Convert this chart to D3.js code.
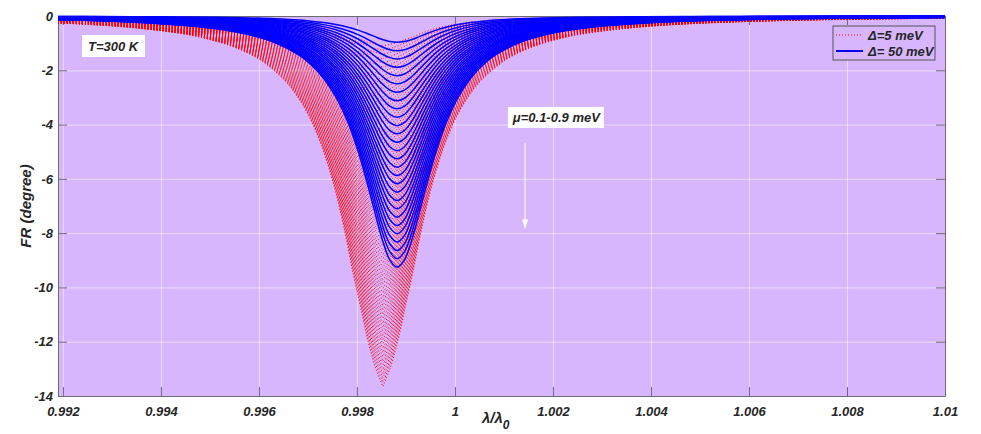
<!DOCTYPE html>
<html>
<head>
<meta charset="utf-8">
<script src="https://cdn.jsdelivr.net/npm/d3@7"></script>
<style>
  body { margin: 0; background: #fff; }
  svg text { font-family: "Liberation Sans", Arial, Helvetica, sans-serif; font-weight: bold; font-style: italic; fill: #262626; }
  .axis path, .axis line { stroke: #6e6a73; }
  .axis text { font-size: 13px; }
  .grid line { stroke: #fff; stroke-opacity: 0.5; }
  .grid path { display: none; }
</style>
</head>
<body>
<script>
// ticks
var xTicks = [0.992, 0.994, 0.996, 0.998, 1.000, 1.002, 1.004, 1.006, 1.008, 1.010];
var xTickLabels = ["0.992", "0.994", "0.996", "0.998", "1", "1.002", "1.004", "1.006", "1.008", "1.01"];
var yTicks = [0, -2, -4, -6, -8, -10, -12, -14];
var yTickLabels = ["0", "-2", "-4", "-6", "-8", "-10", "-12", "-14"];

// where the dips sit (lambda/lambda0)
var redCenter = 0.99853;
var blueCenter = 0.99882;

// bottom of each curve (degree)
var redDepths = [-1.10, -1.26, -1.41, -1.57, -1.73, -1.88, -2.04, -2.20, -2.36, -2.51,
                 -2.67, -2.83, -2.98, -3.14, -3.30, -3.45, -3.61, -3.77, -3.92, -4.08,
                 -4.24, -4.39, -4.55, -4.71, -4.87, -5.02, -5.18, -5.34, -5.49, -5.65,
                 -5.81, -5.96, -6.12, -6.28, -6.43, -6.59, -6.75, -6.90, -7.06, -7.22,
                 -7.38, -7.53, -7.69, -7.85, -8.00, -8.16, -8.32, -8.47, -8.63, -8.79,
                 -8.94, -9.10, -9.26, -9.41, -9.57, -9.73, -9.88, -10.04, -10.20, -10.36,
                 -10.51, -10.67, -10.83, -10.98, -11.14, -11.30, -11.45, -11.61, -11.77, -11.92,
                 -12.08, -12.24, -12.39, -12.55, -12.71, -12.87, -13.02, -13.18, -13.34, -13.49,
                 -13.65];
var blueDepths = [-0.97, -1.28, -1.58, -1.89, -2.20, -2.50, -2.81, -3.12, -3.42, -3.73,
                  -4.04, -4.34, -4.65, -4.96, -5.26, -5.57, -5.88, -6.18, -6.49, -6.80,
                  -7.10, -7.41, -7.72, -8.02, -8.33, -8.64, -8.94, -9.25];

// distance from the dip (x 1e-3) and fraction of the depth
var offsets = [-7, -6, -5, -4, -3.5, -3, -2.5, -2, -1.75, -1.5, -1.25, -1, -0.8, -0.6, -0.45, -0.3, -0.15,
               0,
               0.15, 0.3, 0.45, 0.6, 0.8, 1, 1.25, 1.5, 1.75, 2, 2.5, 3, 3.5, 4, 5, 6, 7, 8, 9.5, 11.5];
var redShape = [0.017, 0.023, 0.033, 0.050, 0.065, 0.086, 0.119, 0.175, 0.217, 0.273, 0.351, 0.458, 0.569, 0.70, 0.79, 0.88, 0.95,
                1,
                0.95, 0.88, 0.79, 0.70, 0.569, 0.458, 0.351, 0.273, 0.217, 0.175, 0.119, 0.086, 0.065, 0.050, 0.033, 0.023, 0.017, 0.013, 0.009, 0.006];
var blueShape = [0.015, 0.020, 0.029, 0.044, 0.057, 0.076, 0.106, 0.156, 0.195, 0.248, 0.322, 0.425, 0.536, 0.673, 0.785, 0.892, 0.971,
                 1,
                 0.971, 0.892, 0.785, 0.673, 0.536, 0.425, 0.322, 0.248, 0.195, 0.156, 0.106, 0.076, 0.057, 0.044, 0.029, 0.020, 0.015, 0.011, 0.008, 0.0056];

var margin = {top: 16, right: 36, bottom: 38, left: 58},
    width = 981 - margin.left - margin.right,
    height = 434 - margin.top - margin.bottom;

var svg = d3.select("body").append("svg")
    .attr("width", 981)
    .attr("height", 434);

var g = svg.append("g")
    .attr("transform", "translate(" + margin.left + "," + margin.top + ")");

var x = d3.scaleLinear().domain([0.9919, 1.0100]).range([0, width]);
var y = d3.scaleLinear().domain([-14, 0]).range([height, 0]);

var purple = "#d8b6fe";

g.append("rect")
    .attr("width", width)
    .attr("height", height)
    .attr("fill", purple);

// grid
g.append("g")
    .attr("class", "grid")
    .attr("transform", "translate(0," + height + ")")
    .call(d3.axisBottom(x).tickValues(xTicks).tickSize(-height).tickFormat(""));
g.append("g")
    .attr("class", "grid")
    .call(d3.axisLeft(y).tickValues(yTicks).tickSize(-width).tickFormat(""));

// box + ticks (drawn under the data like matlab)
g.append("g")
    .attr("class", "axis")
    .attr("transform", "translate(0," + height + ")")
    .call(d3.axisBottom(x).tickValues(xTicks)
        .tickFormat(function(d, i) { return xTickLabels[i]; })
        .tickSizeInner(-9).tickSizeOuter(0).tickPadding(11));
g.append("g")
    .attr("class", "axis")
    .call(d3.axisLeft(y).tickValues(yTicks)
        .tickFormat(function(d, i) { return yTickLabels[i]; })
        .tickSizeInner(-9).tickSizeOuter(0).tickPadding(5));
g.append("g")
    .attr("class", "axis")
    .call(d3.axisTop(x).tickValues(xTicks).tickFormat("").tickSizeInner(-9).tickSizeOuter(0));
g.append("g")
    .attr("class", "axis")
    .attr("transform", "translate(" + width + ",0)")
    .call(d3.axisRight(y).tickValues(yTicks).tickFormat("").tickSizeInner(-9).tickSizeOuter(0));

// clip for the curves
svg.append("defs").append("clipPath")
    .attr("id", "plot-clip")
  .append("rect")
    .attr("x", 0)
    .attr("y", -2)
    .attr("width", width)
    .attr("height", height + 2);

var curves = g.append("g").attr("clip-path", "url(#plot-clip)");

var line = d3.line()
    .x(function(d) { return x(d[0]); })
    .y(function(d) { return y(d[1]); })
    .curve(d3.curveCatmullRom.alpha(0.5));

var zero = offsets.indexOf(0);

// red dotted curves, each drawn from both outer edges in to the dip
redDepths.forEach(function(depth) {
    var pts = offsets.map(function(o, i) { return [redCenter + o / 1000, depth * redShape[i]]; });
    [pts.slice(0, zero + 1), pts.slice(zero).reverse()].forEach(function(half) {
        curves.append("path")
            .attr("d", line(half))
            .attr("fill", "none")
            .attr("stroke", "#ff0000")
            .attr("stroke-width", 1)
            .attr("stroke-dasharray", "1,2");
    });
});

// blue solid curves
blueDepths.forEach(function(depth) {
    var pts = offsets.map(function(o, i) { return [blueCenter + o / 1000, depth * blueShape[i]]; });
    curves.append("path")
        .attr("d", line(pts))
        .attr("fill", "none")
        .attr("stroke", "#0000ff")
        .attr("stroke-width", 1.5);
});

// T=300 K box
var tx = x(0.99239), ty = y(-0.70);
g.append("rect").attr("x", tx).attr("y", ty).attr("width", 63).attr("height", 22).attr("fill", "#fff");
g.append("text").attr("x", tx + 6).attr("y", ty + 16).style("font-size", "13px").text("T=300 K");

// mu box and arrow
var mx = x(1.00108), my = y(-3.35);
g.append("rect").attr("x", mx).attr("y", my).attr("width", 96).attr("height", 21).attr("fill", "#fff");
g.append("text").attr("x", mx + 5).attr("y", my + 15).style("font-size", "13px").text("μ=0.1-0.9 meV");

var ax = x(1.00143);
g.append("line")
    .attr("x1", ax).attr("x2", ax)
    .attr("y1", y(-4.68)).attr("y2", y(-7.55))
    .attr("stroke", "#fff").attr("stroke-width", 1);
g.append("path")
    .attr("d", "M" + (ax - 3) + "," + y(-7.5) + "L" + (ax + 3) + "," + y(-7.5) + "L" + ax + "," + y(-7.85) + "Z")
    .attr("fill", "#fff");

// legend
var lg = g.append("g").attr("transform", "translate(" + (width - 112) + ",10)");
lg.append("rect")
    .attr("width", 102).attr("height", 34)
    .attr("fill", purple).attr("stroke", "#555").attr("stroke-width", 1);
lg.append("line").attr("x1", 3).attr("x2", 30).attr("y1", 9).attr("y2", 9)
    .attr("stroke", "#ff0000").attr("stroke-width", 1).attr("stroke-dasharray", "1,2");
lg.append("line").attr("x1", 3).attr("x2", 30).attr("y1", 25).attr("y2", 25)
    .attr("stroke", "#0000ff").attr("stroke-width", 2);
lg.append("text").attr("x", 35).attr("y", 14).style("font-size", "13px").text("Δ=5 meV");
lg.append("text").attr("x", 35).attr("y", 30).style("font-size", "13px").text("Δ= 50 meV");

// axis titles
var xt = svg.append("text")
    .attr("x", 482).attr("y", 423)
    .style("font-size", "15px");
xt.append("tspan").text("λ/λ");
xt.append("tspan").attr("dy", 6).style("font-size", "12px").text("0");

svg.append("text")
    .attr("transform", "translate(31," + (margin.top + height / 2) + ") rotate(-90)")
    .attr("text-anchor", "middle")
    .style("font-size", "15px")
    .text("FR (degree)");
</script>
</body>
</html>
